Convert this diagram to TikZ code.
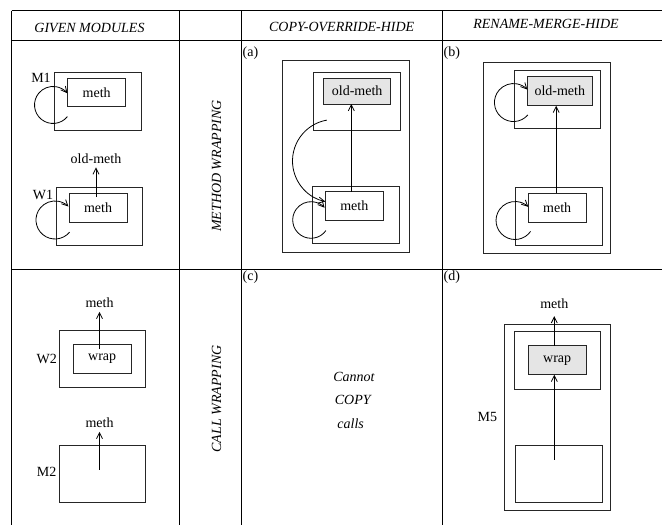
\documentclass[tikz,border=0pt]{standalone}
\usepackage{fontspec}
\setmainfont{Liberation Serif}
\usetikzlibrary{arrows.meta,calc}
\begin{document}
\begin{tikzpicture}[x=1pt,y=-1pt,
  every node/.style={font=\fontsize{14}{16}\selectfont},
  box/.style={draw=black!85, line width=0.8pt, inner sep=0pt, outer sep=0pt},
  shade/.style={box, fill=black!10},
  lbl/.style={inner sep=4pt},
  hdr/.style={font=\fontsize{14}{16}\selectfont\itshape, inner sep=1pt},
  tag/.style={anchor=west, inner sep=0pt},
  grid/.style={line width=0.8pt, black},
  arr/.style={line width=0.8pt, black, -{Straight Barb[length=6pt,width=6pt]}}]
\useasboundingbox (0,0) rectangle (662,525);
% table
\draw[grid] (11.7,10.7) -- (662,10.7);
\draw[grid] (11.7,40) -- (662,40);
\draw[grid] (11.7,269) -- (662,269);
\foreach \xx in {11.7,179,241.5,442.3} \draw[grid] (\xx,10.7) -- (\xx,525);
% headers
\node[hdr] (h1) at (89.5,28.3) {GIVEN MODULES};
\node[hdr] (h2) at (341.7,27.3) {COPY-OVERRIDE-HIDE};
\node[hdr] (h3) at (546,24) {RENAME-MERGE-HIDE};
\node[hdr, rotate=90] (v1) at (216.7,166) {METHOD WRAPPING};
\node[hdr, rotate=90] (v2) at (216.7,399) {CALL WRAPPING};
\node[tag] (ta) at (242.5,52.7) {(a)};
\node[tag] (tb) at (443.5,53) {(b)};
\node[tag] (tc) at (242.5,277) {(c)};
\node[tag] (td) at (443.5,277) {(d)};

% M1
\node[box, minimum width=87pt, minimum height=57.7pt] (M1out) at (97.8,101.2) {};
\node[box, minimum width=58pt, minimum height=28.7pt] (M1in) at (96.7,92.3) {meth};
\node (M1lbl) at (41,78) {M1};
\coordinate (m1s) at (67.4,116.6);
\draw[arr] (m1s) arc[start angle=-39, end angle=-321, radius=18.5pt];

% W1
\node[box, minimum width=86.7pt, minimum height=57.7pt] (W1out) at (99.3,216.2) {};
\node[box, minimum width=58pt, minimum height=29pt] (W1in) at (98,207.5) {meth};
\node (W1lbl) at (43,195) {W1};
\node[lbl] (oldlbl) at (96,158.3) {old-meth};
\draw[arr] ($(W1in.north -| oldlbl)+(0,4)$) -- (oldlbl.south);
\coordinate (w1s) at (69.55,232.2);
\draw[arr] (w1s) arc[start angle=-40, end angle=-315, radius=19pt];

% W2
\node[box, minimum width=86.7pt, minimum height=57.3pt] (W2out) at (102.3,358.7) {};
\node[box, minimum width=57.7pt, minimum height=29.3pt] (W2in) at (102.2,358.7) {wrap};
\node (W2lbl) at (46.7,359.3) {W2};
\node[lbl] (methA) at (99.5,302.7) {meth};
\draw[arr] ($(W2in.north -| methA)+(0,5)$) -- (methA.south);

% M2
\node[box, minimum width=86.7pt, minimum height=57.3pt] (M2box) at (102.3,473.7) {};
\node (M2lbl) at (46.7,472.3) {M2};
\node[lbl] (methB) at (99.5,422.7) {meth};
\draw[arr] ($(M2box.center -| methB)+(0,-4)$) -- (methB.south);

% panel (a)
\node[box, minimum width=127pt, minimum height=191.6pt] (aOut) at (345.8,156.5) {};
\node[box, minimum width=87pt, minimum height=57.7pt] (aTop) at (357.2,101.2) {};
\node[shade, minimum width=67pt, minimum height=26pt] (aOld) at (357.2,91) {old-meth};
\node[box, minimum width=86.7pt, minimum height=57.3pt] (aBot) at (355.7,214.7) {};
\node[box, minimum width=58pt, minimum height=28.6pt] (aMeth) at (354.3,206) {meth};
\draw[arr] ($(aMeth.north)+(-3,0)$) -- ($(aMeth.north |- aOld.south)+(-3,0)$);
\coordinate (abig) at (326.8,120.1);
\draw[arr] (abig) arc[start angle=-260, end angle=-102, radius=41.5pt];
\coordinate (aloop) at (325.9,230.6);
\draw[arr] (aloop) arc[start angle=-35.5, end angle=-318, radius=18.3pt];

% panel (b)
\node[box, minimum width=127.4pt, minimum height=191pt] (bOut) at (547,157.8) {};
\node[box, minimum width=86.7pt, minimum height=57.6pt] (bTop) at (557.3,99.5) {};
\node[shade, minimum width=65pt, minimum height=29pt] (bOld) at (559.8,91.2) {old-meth};
\node[box, minimum width=86.6pt, minimum height=57.7pt] (bBot) at (559,216.2) {};
\node[box, minimum width=57.7pt, minimum height=28.7pt] (bMeth) at (557.2,207.7) {meth};
\draw[arr] ($(bMeth.north)+(-1,0)$) -- ($(bMeth.north |- bOld.south)+(-1,0)$);
\coordinate (btl) at (527.8,115.0);
\draw[arr] (btl) arc[start angle=-41, end angle=-317, radius=19pt];
\coordinate (bbl) at (530.6,231.4);
\draw[arr] (bbl) arc[start angle=-35, end angle=-314, radius=19pt];

% panel (c)
\node[hdr] (c1) at (354,377.3) {Cannot};
\node[hdr] (c2) at (352.7,400) {COPY};
\node[hdr] (c3) at (350.7,423.3) {calls};

% panel (d)
\node[box, minimum width=106.7pt, minimum height=186pt] (dOut) at (557.3,417) {};
\node[box, minimum width=86.7pt, minimum height=57.7pt] (dTop) at (557.3,360.2) {};
\node[shade, minimum width=57.7pt, minimum height=29pt] (dWrap) at (557.2,360.2) {wrap};
\node[box, minimum width=86.6pt, minimum height=57.7pt] (dBot) at (559,473.8) {};
\node (M5lbl) at (487.3,416.7) {M5};
\node[lbl] (methC) at (554.3,304) {meth};
\draw[arr] (dWrap.north -| methC) -- ($(methC.south)+(0,3)$);
\draw[arr] ($(dBot.center -| methC)+(0,-14)$) -- (dWrap.south -| methC);
\end{tikzpicture}
\end{document}
